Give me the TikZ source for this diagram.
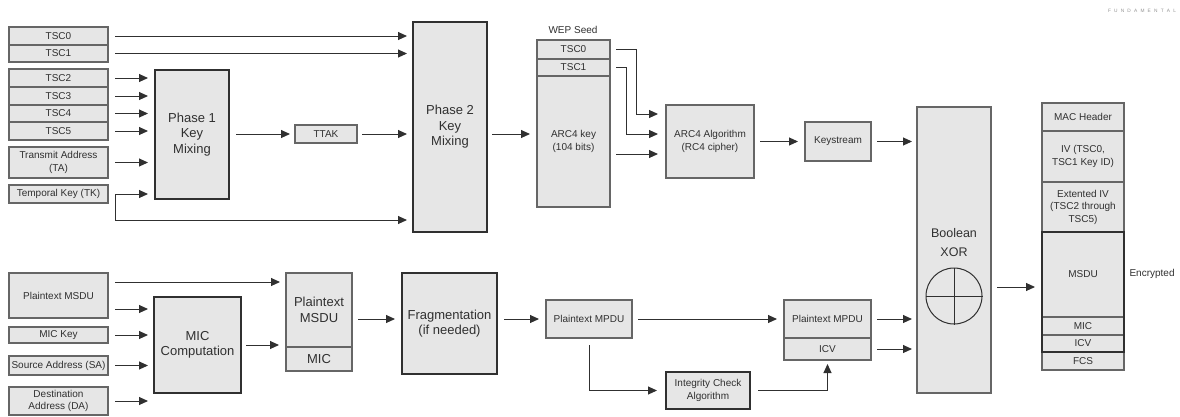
\documentclass[tikz,border=0pt]{standalone}
\usepackage{fontspec}
\setmainfont{Liberation Sans}
\usepackage{tikz}
\usetikzlibrary{positioning}
\usetikzlibrary{arrows.meta}
\usepackage{xcolor}
\definecolor{boxgray}{HTML}{E6E6E6}
\definecolor{edgegray}{HTML}{666666}
\definecolor{inkgray}{HTML}{303030}
\newcommand{\smtxt}{\fontsize{10}{12.5}\selectfont}
\newcommand{\bigtxt}{\fontsize{13}{15.5}\selectfont}

\begin{document}
\begin{tikzpicture}[x=1pt,y=-1pt,
    f/.style={-{Triangle[length=9pt,width=8pt]},line width=1pt,draw=inkgray},%
    s/.style={draw=edgegray,line width=1.1pt,fill=boxgray,anchor=north west,inner sep=0pt,outer sep=0pt,align=center,text=inkgray,font=\smtxt},%
    k/.style={s,draw=inkgray,line width=1.7pt,font=\bigtxt},%
    sz/.style 2 args={minimum width=#1,minimum height=#2}]
    \useasboundingbox (0,0) rectangle (1180,416);
    % inputs
    \node[s,sz={99}{18}] (tsc0) at (9,27) {TSC0};
    \node[s,sz={99}{17},below=0pt of tsc0] (tsc1) {TSC1};
    \node[s,sz={99}{18}] (tsc2) at (9,69) {TSC2};
    \node[s,sz={99}{18},below=0pt of tsc2] (tsc3) {TSC3};
    \node[s,sz={99}{17},below=0pt of tsc3] (tsc4) {TSC4};
    \node[s,sz={99}{18},below=0pt of tsc4] (tsc5) {TSC5};
    \node[s,sz={99}{31}] (ta) at (9,147) {Transmit Address\\(TA)};
    \node[s,sz={99}{18}] (tk) at (9,185) {Temporal Key (TK)};
    \node[s,sz={99}{45}] (pmsdu) at (9,273) {Plaintext MSDU};
    \node[s,sz={99}{16}] (mickey) at (9,327) {MIC Key};
    \node[s,sz={99}{19}] (sa) at (9,356) {Source Address (SA)};
    \node[s,sz={99}{28}] (da) at (9,387) {Destination\\Address (DA)};
    % key mixing
    \node[k,sz={74}{129}] (ph1) at (155,70) {Phase 1\\Key\\Mixing};
    \node[s,sz={62}{18}] (ttak) at (295,125) {TTAK};
    \node[k,sz={74}{210}] (ph2) at (413,22) {Phase 2\\Key\\Mixing};
    \node[font=\smtxt,text=inkgray] (wep) at (573,30) {WEP Seed};
    \node[s,sz={73}{19}] (seed0) at (537,40) {TSC0};
    \node[s,sz={73}{17},below=0pt of seed0] (seed1) {TSC1};
    \node[s,sz={73}{131},below=0pt of seed1] (arc4key) {ARC4 key\\(104 bits)};
    \node[s,sz={88}{73}] (arc) at (666,105) {ARC4 Algorithm\\(RC4 cipher)};
    \node[s,sz={66}{39}] (ks) at (805,122) {Keystream};
    % MIC and fragments
    \node[k,sz={87}{96}] (mic) at (154,297) {MIC\\Computation};
    \node[s,sz={66}{74},font=\bigtxt] (mmsdu) at (286,273) {Plaintext\\MSDU};
    \node[s,sz={66}{24},font=\bigtxt,below=0pt of mmsdu] (mmic) {MIC};
    \node[k,sz={95}{101}] (frag) at (402,273) {Fragmentation\\(if needed)};
    \node[s,sz={86}{38}] (lmpdu) at (546,300) {Plaintext MPDU};
    \node[k,sz={84}{37},font=\smtxt] (ica) at (666,372) {Integrity Check\\Algorithm};
    \node[s,sz={87}{38}] (rmpdu) at (784,300) {Plaintext MPDU};
    \node[s,sz={87}{22},below=0pt of rmpdu] (ricv) {ICV};
    % xor
    \node[s,sz={74}{286}] (xor) at (917,107) {};
    \node[font=\fontsize{12.5}{19}\selectfont,text=inkgray,align=center] (xorlbl) at (954,243) {Boolean\\XOR};
    \node[circle,draw=inkgray,line width=1pt,minimum size=56pt,inner sep=0pt] (xorc) at (954,296) {};
    \draw[inkgray,line width=1pt] (xorc.north) -- (xorc.south) (xorc.west) -- (xorc.east);
    % output frame
    \node[s,sz={82}{28}] (mac) at (1042,103) {MAC Header};
    \node[s,sz={82}{51},below=0pt of mac] (iv) {IV (TSC0,\\TSC1 Key ID)};
    \node[s,sz={82}{50},below=0pt of iv] (eiv) {Extented IV\\(TSC2 through\\TSC5)};
    \node[s,sz={82}{85},below=0pt of eiv] (msdu) {MSDU};
    \node[s,sz={82}{18},below=0pt of msdu] (omic) {MIC};
    \node[s,sz={82}{17},below=0pt of omic] (oicv) {ICV};
    \node[s,sz={82}{18},below=0pt of oicv] (fcs) {FCS};
    \draw[inkgray,line width=1.7pt] (msdu.north west) rectangle (oicv.south east);
    \node[font=\smtxt,text=inkgray,anchor=west] (enc) at (1126,274) {Encrypted};
    \node[font=\fontsize{4.8}{5}\selectfont,text=gray!85] (wm) at (1142,11) {F\hspace{3.2pt}U\hspace{3.2pt}N\hspace{3.2pt}D\hspace{3.2pt}A\hspace{3.2pt}M\hspace{3.2pt}E\hspace{3.2pt}N\hspace{3.2pt}T\hspace{3.2pt}A\hspace{3.2pt}L};

    % top arrows
    \draw[f,shorten <=7pt,shorten >=6pt] (tsc0.east) -- (tsc0 -| ph2.west);
    \draw[f,shorten <=7pt,shorten >=6pt] (tsc1.east) -- (tsc1 -| ph2.west);
    \foreach \n in {tsc2,tsc3,tsc4,tsc5,ta}
        \draw[f,shorten <=7pt,shorten >=7pt] (\n.east) -- (\n -| ph1.west);
    \coordinate (tkfork) at ([xshift=7pt]tk.east);
    \coordinate (tkbend) at ([yshift=-26pt]tkfork);
    \draw[f,shorten >=7pt] (tkfork) -- (tkfork -| ph1.west);
    \draw[f,shorten >=6pt] (tkfork) -- (tkbend) -- (tkbend -| ph2.west);
    \draw[f,shorten <=7pt,shorten >=5pt] (ph1.east |- ttak) -- (ttak.west);
    \draw[f,shorten <=5pt,shorten >=6pt] (ttak.east) -- (ttak -| ph2.west);
    \draw[f,shorten <=5pt,shorten >=7pt] (ph2.east |- ttak) -- (ttak -| arc4key.west);
    \draw[f,shorten <=6pt,shorten >=8pt] (seed0.east) -- ++(26,0) |- ([yshift=27.5pt]arc.west);
    \draw[f,shorten <=6pt,shorten >=8pt] (seed1.east) -- ++(16,0) |- ([yshift=7.5pt]arc.west);
    \coordinate (k3) at ([yshift=-12.5pt]arc.west);
    \draw[f,shorten <=6pt,shorten >=8pt] (k3 -| arc4key.east) -- (k3);
    \draw[f,shorten <=6pt,shorten >=7pt] (arc.east) -- (arc -| ks.west);
    \draw[f,shorten <=6pt,shorten >=5pt] (ks.east) -- (ks -| xor.west);

    % bottom arrows
    \coordinate (p1) at ([yshift=13.5pt]pmsdu.east);
    \coordinate (p2) at ([yshift=-13.5pt]pmsdu.east);
    \draw[f,shorten <=7pt,shorten >=6pt] (p1) -- (p1 -| mmsdu.west);
    \draw[f,shorten <=7pt,shorten >=6pt] (p2) -- (p2 -| mic.west);
    \foreach \n in {mickey,sa,da}
        \draw[f,shorten <=7pt,shorten >=6pt] (\n.east) -- (\n -| mic.west);
    \draw[f,shorten <=5pt,shorten >=7pt] (mic.east) -- (mic -| mmsdu.west);
    \draw[f,shorten <=6pt,shorten >=7pt] (mmsdu.east |- lmpdu) -- (frag.west |- lmpdu);
    \draw[f,shorten <=7pt,shorten >=7pt] (frag.east |- lmpdu) -- (lmpdu.west);
    \draw[f,shorten <=6pt,shorten >=7pt] (lmpdu.east) -- (rmpdu.west);
    \draw[f,shorten <=7pt,shorten >=9pt] (lmpdu.south) |- (ica.west);
    \draw[f,shorten <=8pt,shorten >=4pt] (ica.east) -| (ricv.south);
    \draw[f,shorten <=6pt,shorten >=5pt] (rmpdu.east) -- (rmpdu -| xor.west);
    \draw[f,shorten <=6pt,shorten >=5pt] (ricv.east) -- (ricv -| xor.west);
    \coordinate (x1) at ([yshift=-12.5pt]msdu.west);
    \draw[f,shorten <=6pt,shorten >=7pt] (x1 -| xor.east) -- (x1);
\end{tikzpicture}
\end{document}
